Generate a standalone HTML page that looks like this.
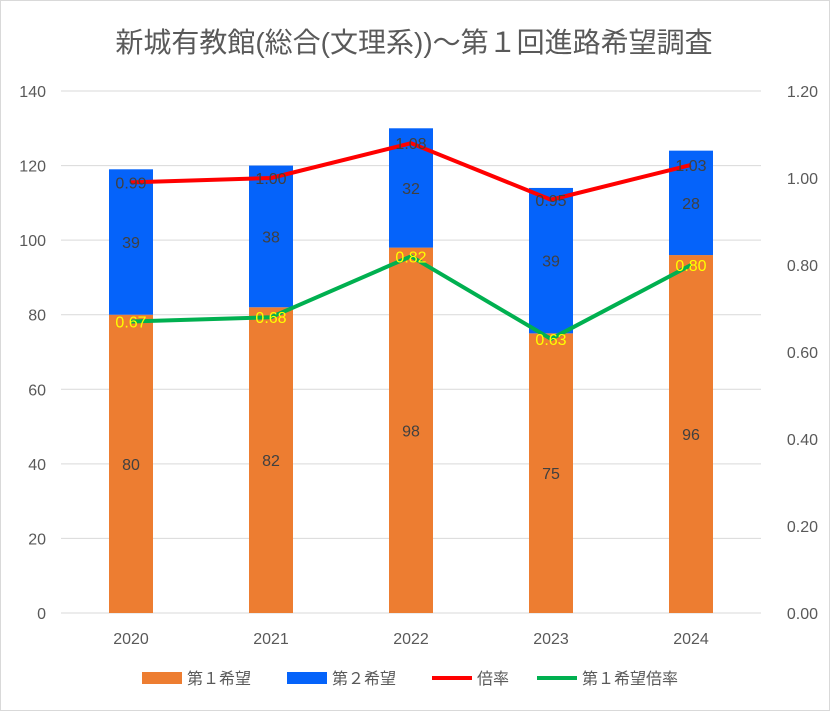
<!DOCTYPE html>
<html><head><meta charset="utf-8"><style>
body{margin:0;background:#fff}
svg{display:block;font-family:"Liberation Sans","Noto Sans CJK JP",sans-serif}
</style></head><body>
<svg id="c" width="830" height="711">
<rect x="0.5" y="0.5" width="829" height="710" fill="#fff" stroke="#d9d9d9"/>
<text x="414" y="52" text-anchor="middle" font-size="28" fill="#595959">新城有教館(総合(文理系))～第１回進路希望調査</text>
<g id="grid"></g><g id="bars"></g><g id="lines"></g><g id="labels"></g><g id="legend"></g>
</svg>
<script>
const years=["2020","2021","2022","2023","2024"];
const first=[80,82,98,75,96];
const second=[39,38,32,39,28];
const ratio=[0.99,1.00,1.08,0.95,1.03];
const firstRatio=[0.67,0.68,0.82,0.63,0.80];
const leftTicks=[0,20,40,60,80,100,120,140];
const rightTicks=[0,0.2,0.4,0.6,0.8,1.0,1.2];
const NS="http://www.w3.org/2000/svg";
const X0=61,X1=761,Y0=613,Y1=91;
const yL=v=>Y0-(v/140)*(Y0-Y1);
const yR=v=>Y0-(v/1.2)*(Y0-Y1);
const step=(X1-X0)/years.length;
const xC=i=>X0+step*(i+0.5);
const BW=44;
function mk(tag,attrs,parent,txt){const e=document.createElementNS(NS,tag);for(const k in attrs)e.setAttribute(k,attrs[k]);if(txt!==undefined)e.textContent=txt;document.getElementById(parent).appendChild(e);return e;}
leftTicks.forEach(t=>{
 const l=mk("line",{x1:X0,x2:X1,y1:yL(t),y2:yL(t),stroke:"#d9d9d9","stroke-width":1},"grid");
 
 
 const tx=mk("text",{x:46,y:yL(t)+6,"text-anchor":"end","font-size":16,fill:"#595959"},"grid",t);
 
 
});
rightTicks.forEach(t=>{
 const tx=mk("text",{x:818,y:yR(t)+6,"text-anchor":"end","font-size":16,fill:"#595959"},"grid",t.toFixed(2));
 
 
});
years.forEach((y,i)=>{
 const tx=mk("text",{x:xC(i),y:644,"text-anchor":"middle","font-size":16,fill:"#595959"},"grid",y);
 
 
 const b1=mk("rect",{x:xC(i)-BW/2,y:yL(first[i]),width:BW,height:Y0-yL(first[i]),fill:"#ed7d31"},"bars");
 
 
 const b2=mk("rect",{x:xC(i)-BW/2,y:yL(first[i]+second[i]),width:BW,height:yL(first[i])-yL(first[i]+second[i]),fill:"#0563fa"},"bars");
 
 
 const l1=mk("text",{x:xC(i),y:(yL(first[i])+Y0)/2+6,"text-anchor":"middle","font-size":16,fill:"#404040"},"labels",first[i]);
 
 
 const l2=mk("text",{x:xC(i),y:(yL(first[i])+yL(first[i]+second[i]))/2+6,"text-anchor":"middle","font-size":16,fill:"#404040"},"labels",second[i]);
 
 
 const l3=mk("text",{x:xC(i),y:yR(ratio[i])+6,"text-anchor":"middle","font-size":16,fill:"#404040"},"labels",ratio[i].toFixed(2));
 
 
 const l4=mk("text",{x:xC(i),y:yR(firstRatio[i])+6,"text-anchor":"middle","font-size":16,fill:"#ffff00"},"labels",firstRatio[i].toFixed(2));
 
 
});
const p1=mk("polyline",{points:ratio.map((v,i)=>xC(i)+","+yR(v)).join(" "),fill:"none",stroke:"#ff0000","stroke-width":4,"stroke-linejoin":"round"},"lines");


const p2=mk("polyline",{points:firstRatio.map((v,i)=>xC(i)+","+yR(v)).join(" "),fill:"none",stroke:"#00b050","stroke-width":4,"stroke-linejoin":"round"},"lines");


const leg=[["rect","#ed7d31","第１希望",142],["rect","#0563fa","第２希望",287],["line","#ff0000","倍率",432],["line","#00b050","第１希望倍率",537]];
leg.forEach(([k,c,t,x])=>{
 if(k==="rect"){const r=mk("rect",{x:x,y:672,width:40,height:12,fill:c},"legend");}
 else{const r=mk("line",{x1:x,x2:x+40,y1:678,y2:678,stroke:c,"stroke-width":4},"legend");}
 const tx=mk("text",{x:x+45,y:684,"font-size":16,fill:"#595959"},"legend",t);
 
 
});
</script>
</body></html>
